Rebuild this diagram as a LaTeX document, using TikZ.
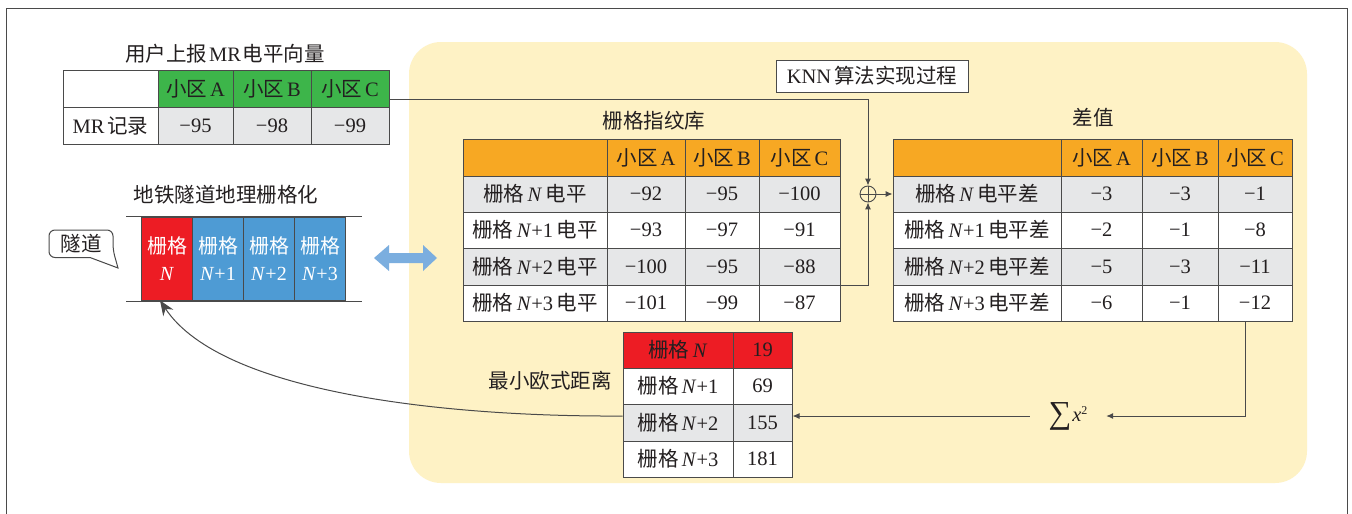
\documentclass[tikz,border=0pt]{standalone}
\usepackage{fontspec}
\setmainfont{Liberation Serif}
\newfontfamily\zhfont{Noto Sans CJK SC}
\newcommand\zh[1]{{\zhfont #1}}
\usetikzlibrary{arrows.meta}
\definecolor{bgyellow}{HTML}{FEF2C5}
\definecolor{cgreen}{HTML}{3DB54A}
\definecolor{corange}{HTML}{F7A823}
\definecolor{cgray}{HTML}{E6E7E8}
\definecolor{cred}{HTML}{ED1C24}
\definecolor{cblue}{HTML}{4E9BD4}
\definecolor{carrow}{HTML}{7BAEDF}
\definecolor{cline}{HTML}{4A4A4A}
\definecolor{ctext}{HTML}{231F20}
\newcommand\tcell[7]{\node[tcell, fill=#6, minimum width={(#4-#2)*1pt}, minimum height={(#5-#3)*1pt}] (#1) at ({(#2+#4)/2},{(#3+#5)/2}) {#7};}
\newcommand\trow[8]{%
  \tcell{#1-0}{\tXa}{#2}{\tXb}{#3}{#4}{#5}
  \tcell{#1-1}{\tXb}{#2}{\tXc}{#3}{#4}{#6}
  \tcell{#1-2}{\tXc}{#2}{\tXd}{#3}{#4}{#7}
  \tcell{#1-3}{\tXd}{#2}{\tXe}{#3}{#4}{#8}}
\newcommand\gN[1]{\zh{栅格}\,\textit{N}#1}
\newcommand\cellX[1]{\zh{小区}\kern3pt #1}
\begin{document}
\begin{tikzpicture}[x=1pt,y=-1pt,
  font=\fontsize{20.5}{24}\selectfont,
  every node/.style={text=ctext},
  tcell/.style={draw=cline, line width=1pt, inner sep=0pt, anchor=center},
  tunnelcell/.style={draw=cline, line width=0.8pt, inner sep=0pt, minimum width=51pt, minimum height=83pt, align=center, text=white, font=\fontsize{20}{27}\selectfont},
  conn/.style={cline, line width=1pt, -{Latex[length=7pt,width=6pt]}},
  plain/.style={cline, line width=1pt}]
\useasboundingbox (0,0) rectangle (1352,514);
\fill[white] (0,0) rectangle (1352,514);
\draw[cline, line width=1.5pt] (6.5,514) -- (6.5,8.5) -- (1347.5,8.5) -- (1347.5,514);
\fill[bgyellow, rounded corners=32pt] (409,42) rectangle (1307,483);

% titles
\node (mrtitle) at (225,54) {\zh{用户上报}\kern2pt MR\kern2pt\zh{电平向量}};
\node (gridtitle) at (226,195) {\zh{地铁隧道地理栅格化}};
\node (fptitle) at (654,121) {\zh{栅格指纹库}};
\node (dftitle) at (1093,118) {\zh{差值}};
\node (mintitle) at (550,381) {\zh{最小欧式距离}};
\node[draw=cline, fill=white, line width=1pt, minimum width=192pt, minimum height=32pt, inner sep=0pt] (knn) at (872,76) {KNN\kern3pt\zh{算法实现过程}};

% MR table
\tcell{mr0-0}{63}{70}{158}{107}{white}{}
\tcell{mr0-1}{158}{70}{233}{107}{cgreen}{\cellX{A}}
\tcell{mr0-2}{233}{70}{311}{107}{cgreen}{\cellX{B}}
\tcell{mr0-3}{311}{70}{389}{107}{cgreen}{\cellX{C}}
\tcell{mr1-0}{63}{107}{158}{144}{white}{MR\kern3pt\zh{记录}}
\tcell{mr1-1}{158}{107}{233}{144}{cgray}{−95}
\tcell{mr1-2}{233}{107}{311}{144}{cgray}{−98}
\tcell{mr1-3}{311}{107}{389}{144}{cgray}{−99}

% fingerprint table
\def\tXa{463}\def\tXb{607}\def\tXc{685}\def\tXd{759}\def\tXe{840}
\trow{fp0}{139}{176}{corange}{}{\cellX{A}}{\cellX{B}}{\cellX{C}}
\trow{fp1}{176}{212}{cgray}{\gN{}\,\zh{电平}}{−92}{−95}{−100}
\trow{fp2}{212}{248}{white}{\gN{+1}\,\zh{电平}}{−93}{−97}{−91}
\trow{fp3}{248}{285}{cgray}{\gN{+2}\,\zh{电平}}{−100}{−95}{−88}
\trow{fp4}{285}{321}{white}{\gN{+3}\,\zh{电平}}{−101}{−99}{−87}

% difference table
\def\tXa{893}\def\tXb{1061}\def\tXc{1142}\def\tXd{1218}\def\tXe{1292}
\trow{df0}{139}{176}{corange}{}{\cellX{A}}{\cellX{B}}{\cellX{C}}
\trow{df1}{176}{212}{cgray}{\gN{}\,\zh{电平差}}{−3}{−3}{−1}
\trow{df2}{212}{248}{white}{\gN{+1}\,\zh{电平差}}{−2}{−1}{−8}
\trow{df3}{248}{285}{cgray}{\gN{+2}\,\zh{电平差}}{−5}{−3}{−11}
\trow{df4}{285}{321}{white}{\gN{+3}\,\zh{电平差}}{−6}{−1}{−12}

% min distance table
\tcell{mn0-0}{623}{332}{733}{368}{cred}{\gN{}}
\tcell{mn0-1}{733}{332}{792}{368}{cred}{19}
\tcell{mn1-0}{623}{368}{733}{404}{white}{\gN{+1}}
\tcell{mn1-1}{733}{368}{792}{404}{white}{69}
\tcell{mn2-0}{623}{404}{733}{441}{cgray}{\gN{+2}}
\tcell{mn2-1}{733}{404}{792}{441}{cgray}{155}
\tcell{mn3-0}{623}{441}{733}{477}{white}{\gN{+3}}
\tcell{mn3-1}{733}{441}{792}{477}{white}{181}

% tunnel
\draw[plain] (126,216) -- (362,216);
\draw[plain] (126,301) -- (362,301);
\node[tunnelcell, fill=cred] (t0) at (167,258.5) {\zh{栅格}\\\textit{N}};
\node[tunnelcell, fill=cblue] (t1) at (218,258.5) {\zh{栅格}\\\textit{N}+1};
\node[tunnelcell, fill=cblue] (t2) at (269,258.5) {\zh{栅格}\\\textit{N}+2};
\node[tunnelcell, fill=cblue] (t3) at (320,258.5) {\zh{栅格}\\\textit{N}+3};

% callout
\draw[plain, fill=white] (118,268) -- (90,257.5) [rounded corners=6pt] -- (49,257.5) -- (49,230) -- (113,230) -- (113,250) [sharp corners] -- cycle;
\node (callout) at (81,244) {\zh{隧道}};

% double arrow
\fill[carrow] (374,258) -- (389,245) -- (389,253) -- (423,253) -- (423,245) -- (437,258) -- (423,271) -- (423,263) -- (389,263) -- (389,271) -- cycle;

% oplus
\node[circle, draw=cline, line width=0.9pt, minimum size=16pt, inner sep=0pt] (plus) at (868,194) {};
\draw[cline, line width=0.9pt] (plus.north) -- (plus.south) (plus.west) -- (plus.east);

% connectors
\coordinate (mrout) at ([yshift=-10.5pt]mr0-3.east);
\draw[conn] (mrout) -| (plus.north);
\draw[conn] (fp3-3.south east) -| (plus.south);
\draw[conn] (plus.east) -- (df1-0.west);
\node[inner sep=0pt, minimum width=56pt, minimum height=30pt] (sum) at (1068,416) {{\fontsize{32}{32}\selectfont ∑}\kern1pt\raisebox{2pt}{\textit{x}}\raisebox{9pt}{\fontsize{12}{12}\selectfont 2}};
\coordinate (dfout) at ([xshift=-10pt]df4-3.south);
\draw[conn, shorten >=10pt] (dfout) |- (sum.east);
\draw[conn, shorten <=10pt] (sum.west) -- (sum.west -| mn2-1.east);
\draw[cline, line width=1pt, -{Stealth[length=15pt,width=12pt]}] (mn2-0.west |- sum.west) .. controls (450,417) and (222,394) .. ([xshift=-7pt]t0.south);
\end{tikzpicture}
\end{document}
